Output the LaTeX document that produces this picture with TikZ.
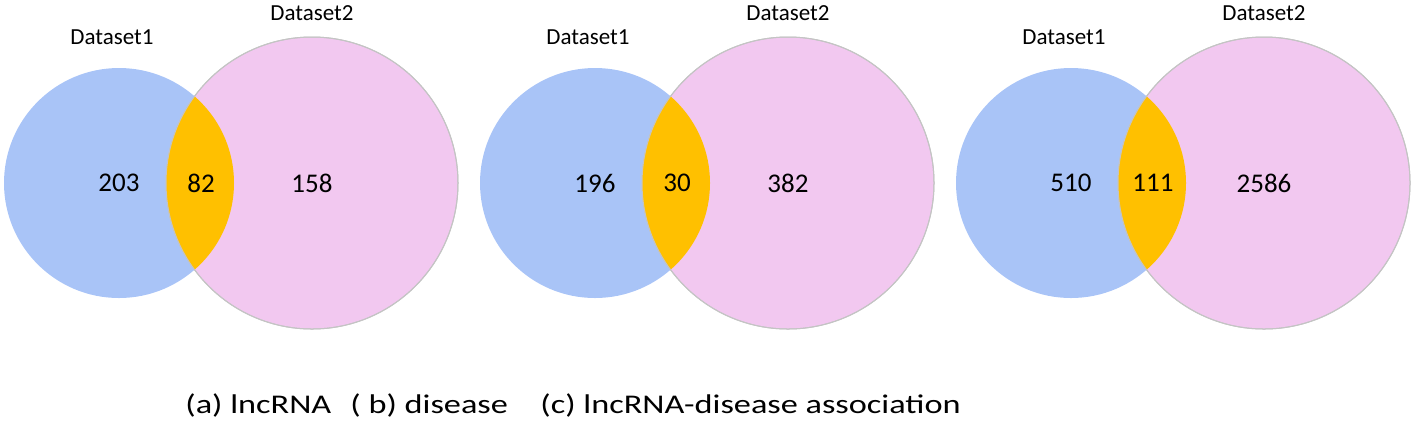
\documentclass[tikz,border=0pt]{standalone}
\usepackage{fontspec}
\setmainfont{Carlito}
\newfontfamily\capfont[FakeStretch=1.27]{Carlito}
\usetikzlibrary{positioning}
\definecolor{setblue}{HTML}{A9C4F7}
\definecolor{setpink}{HTML}{F2C8F0}
\definecolor{setorange}{HTML}{FFC000}
\definecolor{ringgray}{HTML}{C4C4C4}

\begin{document}
\begin{tikzpicture}[x=0.5pt, y=-0.5pt,
    setA/.style={circle, fill=setblue, inner sep=0pt, outer sep=0pt, minimum size=115pt},
    setB/.style={circle, fill=setpink, draw=ringgray, line width=0.5pt, inner sep=0pt, outer sep=0pt, minimum size=146pt},
    numtext/.style={font=\fontsize{13.5}{16}\selectfont},
    setname/.style={font=\fontsize{11.5}{14}\selectfont, anchor=base},
    captext/.style={font=\capfont\fontsize{13.5}{16}\selectfont, anchor=base west, inner sep=0pt},
  ]
  \useasboundingbox (0,0) rectangle (1416,420);
  \foreach \bx/\na/\nab/\nb [count=\i] in {119/203/82/158, 595/196/30/382, 1071/510/111/2586}{
    \node[setA] (a\i) at (\bx,183) {};
    \node[setB] (b\i) at (\bx+193,183) {};
    % overlap of the two sets
    \begin{scope}
      \clip (a\i.center) circle[radius=57.5pt];
      \fill[setorange] (b\i.center) circle[radius=73pt];
    \end{scope}
    \draw[ringgray, line width=0.5pt] (b\i.center) circle[radius=73pt];
    \node[numtext] (na\i) at (a\i.center) {\na};
    \node[numtext] (nab\i) at (\bx+82,183) {\nab};
    \node[numtext] (nb\i) at (b\i.center) {\nb};
    \node[setname] (d1-\i) at ([xshift=-3.5pt, yshift=12pt]a\i.north) {Dataset1};
    \node[setname] (d2-\i) at ([yshift=8.5pt]b\i.north) {Dataset2};
  }
  \node[captext] (capa) at (185,413) {(a) lncRNA};
  \node[captext] (capb) at (350,413) {( b) disease};
  \node[captext] (capc) at (540,413) {(c) lncRNA-disease association};
\end{tikzpicture}
\end{document}
